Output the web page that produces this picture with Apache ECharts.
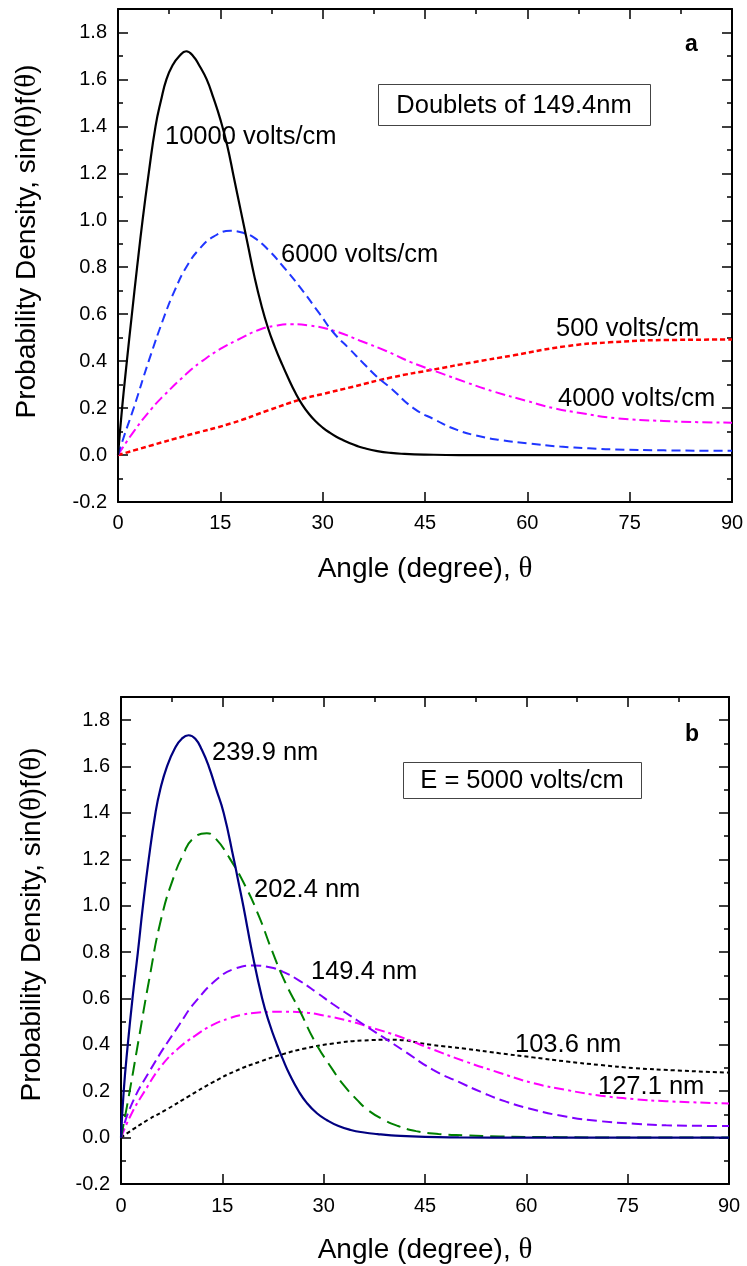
<!DOCTYPE html>
<html><head><meta charset="utf-8">
<script src="https://cdn.jsdelivr.net/npm/echarts@6/dist/echarts.min.js"></script>
<style>html,body{margin:0;padding:0;background:#fff}#c{width:747px;height:1266px}</style>
</head><body><div id="c"></div>
<script>
// ---------- Panel a: Doublets of 149.4 nm, [theta (deg), sin(theta)f(theta)] ----------
const a10000 = [[0,0],[0.6,0.2],[1.3,0.4],[2,0.59],[2.8,0.8],[3.6,1.0],[4.5,1.2],[5.5,1.4],[6.3,1.51],[7.1,1.6],[8,1.66],[9,1.70],[10,1.72],[11,1.70],[12,1.655],[13,1.6],[14,1.52],[15,1.43],[16,1.32],[17,1.18],[18,1.04],[19,0.9],[20,0.76],[21,0.64],[22,0.54],[23,0.46],[24,0.39],[25,0.325],[26,0.265],[27,0.215],[28,0.175],[29,0.143],[30,0.117],[31,0.096],[32,0.078],[33,0.063],[34,0.05],[35,0.039],[36,0.03],[38,0.017],[40,0.009],[42,0.005],[45,0.002],[50,0],[60,0],[70,0],[80,0],[90,0]];
const a6000 = [[0,0],[1,0.09],[2.3,0.2],[4.5,0.4],[6.9,0.6],[8.3,0.7],[10,0.8],[12,0.88],[14,0.93],[16.5,0.955],[18.5,0.945],[20,0.925],[22,0.875],[24.3,0.8],[26.7,0.714],[29.6,0.6],[31.6,0.521],[34,0.45],[36,0.39],[37.9,0.335],[40,0.285],[43.3,0.2],[46.5,0.15],[49.7,0.107],[53,0.08],[56,0.064],[60,0.05],[64.8,0.036],[69,0.029],[73,0.024],[80,0.02],[90,0.018]];
const a4000 = [[0,0],[2.3,0.1],[5,0.2],[6.6,0.25],[10,0.345],[12,0.393],[15,0.452],[17.5,0.49],[20.8,0.535],[23,0.55],[25.3,0.557],[28,0.552],[31.8,0.528],[35.5,0.487],[39.4,0.442],[43,0.395],[47.2,0.35],[51,0.31],[55,0.271],[60,0.23],[63.8,0.2],[68,0.178],[73,0.157],[80,0.145],[85,0.14],[90,0.138]];
const a500 = [[0,0],[5,0.042],[10,0.083],[16.7,0.136],[22,0.19],[26.7,0.236],[30,0.26],[34.3,0.29],[40,0.33],[46.2,0.364],[52,0.395],[58,0.425],[65.8,0.464],[72,0.48],[80.5,0.49],[90,0.492]];

// ---------- Panel b: E = 5000 volts/cm ----------
const b2399 = [[0,0],[0.4,0.2],[1,0.4],[1.7,0.6],[2.5,0.8],[3.25,1.0],[4.1,1.2],[5.1,1.4],[5.8,1.5],[6.8,1.6],[8,1.68],[9,1.72],[10,1.735],[11,1.72],[12,1.67],[13,1.6],[14,1.51],[15.2,1.4],[16.7,1.2],[17.4,1.1],[18.1,1.0],[19.4,0.8],[20.9,0.6],[22,0.49],[23.1,0.4],[24,0.335],[25,0.27],[26.3,0.2],[27.5,0.15],[29,0.105],[30.5,0.075],[32.2,0.05],[34,0.033],[36,0.022],[38,0.015],[40,0.01],[45,0.003],[50,0.001],[60,0],[70,0],[80,0],[90,0]];
const b2024 = [[0,0],[1.1,0.17],[2.6,0.42],[4.1,0.67],[6,0.95],[8,1.14],[9.2,1.22],[10.5,1.285],[12.7,1.313],[14,1.29],[15.9,1.213],[18.4,1.085],[20.4,0.956],[22.3,0.81],[24.3,0.67],[26.5,0.545],[28.7,0.414],[31.4,0.29],[33,0.225],[34.9,0.164],[36.5,0.12],[38.8,0.078],[41,0.05],[43.7,0.028],[47,0.016],[51,0.01],[56,0.005],[65,0.002],[75,0],[90,0]];
const b1494 = [[0,0],[1.3,0.125],[4.3,0.29],[8.7,0.49],[11,0.585],[14.5,0.69],[17,0.73],[19.5,0.742],[22,0.735],[24,0.715],[26.5,0.675],[29,0.625],[31.4,0.575],[35,0.505],[38.8,0.433],[42,0.372],[46.2,0.292],[50,0.24],[53.6,0.193],[57,0.155],[61,0.121],[66,0.09],[70.9,0.071],[76,0.06],[80.7,0.053],[90,0.05]];
const b1271 = [[0,0],[1.5,0.1],[3.5,0.2],[6,0.31],[8.5,0.385],[11,0.44],[13.5,0.485],[16,0.514],[18,0.53],[20,0.538],[22,0.542],[24,0.543],[27,0.54],[30,0.527],[33.5,0.505],[37,0.475],[41.3,0.435],[46,0.382],[51,0.328],[56,0.28],[61,0.235],[66,0.205],[71,0.181],[76,0.166],[80.7,0.157],[90,0.147]];
const b1036 = [[0,0],[2,0.04],[4,0.077],[6.8,0.122],[10,0.178],[13.7,0.24],[17,0.288],[20.6,0.328],[24,0.36],[27,0.383],[31.4,0.406],[36,0.419],[40,0.422],[46,0.4],[51,0.383],[56,0.364],[61,0.346],[66,0.328],[71,0.313],[76,0.3],[82,0.29],[90,0.28]];

const xTickLabels = ['0','15','30','45','60','75','90'];
const yTickLabels = ['-0.2','0.0','0.2','0.4','0.6','0.8','1.0','1.2','1.4','1.6','1.8'];

const FONT = '"Liberation Sans", Arial, Helvetica, sans-serif';
const SERIF = '"Liberation Serif", "DejaVu Serif", "Times New Roman", serif';
const TITLE_SIZE = 28;
const TICK_SIZE = 20;
const NOTE_FONT = '25.5px ' + FONT;

const richTitle = {
  a: {fontFamily: FONT, fontSize: TITLE_SIZE, color: '#000'},
  t: {fontFamily: SERIF, fontSize: TITLE_SIZE + 1, color: '#000'}
};
const xName = '{a|Angle (degree), }{t|θ}';
const yName = '{a|Probability Density, sin(}{t|θ}{a|)f(}{t|θ}{a|)}';

const BLK = '#000';
function mainX(g, gap, margin) {
  return {type:'value', gridIndex:g, position:'bottom', min:0, max:90, interval:15,
    axisLine:{show:true, onZero:false, lineStyle:{color:BLK, width:2}},
    axisTick:{show:true, inside:true, length:10, lineStyle:{color:BLK, width:1.5}},
    axisLabel:{show:true, margin:margin, fontSize:TICK_SIZE, fontFamily:FONT, color:BLK,
      formatter: v => xTickLabels[Math.round(v/15)] ?? ''},
    splitLine:{show:false},
    name:xName, nameLocation:'middle', nameGap:gap, nameTextStyle:{rich:richTitle}};
}
function tickX(g, pos, interval, len, line) {
  return {type:'value', gridIndex:g, position:pos, min:0, max:90, interval:interval,
    axisLine:{show:line, onZero:false, lineStyle:{color:BLK, width:2}},
    axisTick:{show:true, inside:true, length:len, lineStyle:{color:BLK, width:1.5}},
    axisLabel:{show:false}, splitLine:{show:false}};
}
function mainY(g, gap, pad) {
  return {type:'value', gridIndex:g, position:'left', min:-0.2, max:1.9, interval:0.2,
    axisLine:{show:true, onZero:false, lineStyle:{color:BLK, width:2}},
    axisTick:{show:true, inside:true, length:10, lineStyle:{color:BLK, width:1.5}},
    axisLabel:{show:true, margin:11, fontSize:TICK_SIZE, fontFamily:FONT, color:BLK, showMaxLabel:false,
      formatter: v => { const i = Math.round((v + 0.2)/0.2); return (Math.abs(v - (-0.2 + 0.2*i)) < 1e-6 && yTickLabels[i]) ? yTickLabels[i] : ''; }},
    splitLine:{show:false},
    name:yName, nameLocation:'middle', nameGap:gap, nameRotate:90,
    nameTextStyle:{rich:richTitle, padding:pad}};
}
function tickY(g, pos, interval, len, line) {
  return {type:'value', gridIndex:g, position:pos, min:-0.2, max:1.9, interval:interval,
    axisLine:{show:line, onZero:false, lineStyle:{color:BLK, width:2}},
    axisTick:{show:true, inside:true, length:len, lineStyle:{color:BLK, width:1.5}},
    axisLabel:{show:false}, splitLine:{show:false}};
}

function ser(data, xi, yi, color, type, w) {
  return {type:'line', data:data, xAxisIndex:xi, yAxisIndex:yi, showSymbol:false, symbol:'none',
    smooth:0.5, animation:false, silent:true, clip:true,
    lineStyle:{color:color, width:w || 2, type:type}};
}

function label(text, x, y) {
  return {type:'text', x:x, y:y, z:100,
    style:{text:text, fill:'#000', font:NOTE_FONT, align:'left', verticalAlign:'middle'}};
}
function panelTag(text, x, y) {
  return {type:'text', x:x, y:y, z:100,
    style:{text:text, fill:'#000', font:'bold 23px ' + FONT, align:'left', verticalAlign:'middle'}};
}
function box(x, y, w, h, text) {
  return [
    {type:'rect', z:90, shape:{x:x+0.5, y:y+0.5, width:w, height:h}, style:{fill:'#fff', stroke:'#444', lineWidth:1}},
    {type:'text', z:100, x:x + w/2, y:y + h/2 + 1, style:{text:text, fill:'#000', font:NOTE_FONT, align:'center', verticalAlign:'middle'}}
  ];
}

const option = {
  backgroundColor:'#fff',
  animation:false,
  grid:[
    {left:118, top:9, width:614, height:493, containLabel:false},
    {left:121, top:697, width:608, height:488, containLabel:false}
  ],
  xAxis:[
    mainX(0, 53, 11),
    tickX(0, 'top', 15, 10, true),
    tickX(0, 'top', 7.5, 5, false),
    mainX(1, 52, 12),
    tickX(1, 'top', 15, 10, true),
    tickX(1, 'top', 7.5, 5, false)
  ],
  yAxis:[
    mainY(0, 76, [0,0,0,28]),
    tickY(0, 'left', 0.1, 5, false),
    tickY(0, 'right', 0.2, 10, true),
    tickY(0, 'right', 0.1, 5, false),
    mainY(1, 74, [0,0,0,32]),
    tickY(1, 'left', 0.1, 5, false),
    tickY(1, 'right', 0.2, 10, true),
    tickY(1, 'right', 0.1, 5, false)
  ],
  series:[
    ser(a500, 0, 0, '#ff0000', [5,3], 2.5),
    ser(a4000, 0, 0, '#ff00ff', [10,4,3,4]),
    ser(a6000, 0, 0, '#1f36ff', [9,5]),
    ser(a10000, 0, 0, '#000000', 'solid', 2.2),
    ser(b1036, 3, 4, '#000000', [4,3]),
    ser(b1271, 3, 4, '#ff00ff', [10,4,3,4]),
    ser(b1494, 3, 4, '#8000ff', [10,5]),
    ser(b2024, 3, 4, '#008000', [14,7]),
    ser(b2399, 3, 4, '#000080', 'solid', 2.2)
  ],
  graphic:[
    label('10000 volts/cm', 165, 137),
    label('6000 volts/cm', 281, 255),
    label('500 volts/cm', 556, 329),
    label('4000 volts/cm', 558, 399),
    panelTag('a', 685, 45),
    ...box(378, 84, 272, 41, 'Doublets of 149.4nm'),
    label('239.9 nm', 212, 753),
    label('202.4 nm', 254, 890),
    label('149.4 nm', 311, 972),
    label('103.6 nm', 515, 1045),
    label('127.1 nm', 598, 1087),
    panelTag('b', 685, 735),
    ...box(403, 762, 238, 36, 'E = 5000 volts/cm')
  ]
};

const chart = echarts.init(document.getElementById('c'), null, {renderer:'canvas'});
chart.setOption(option);
</script>
</body></html>
